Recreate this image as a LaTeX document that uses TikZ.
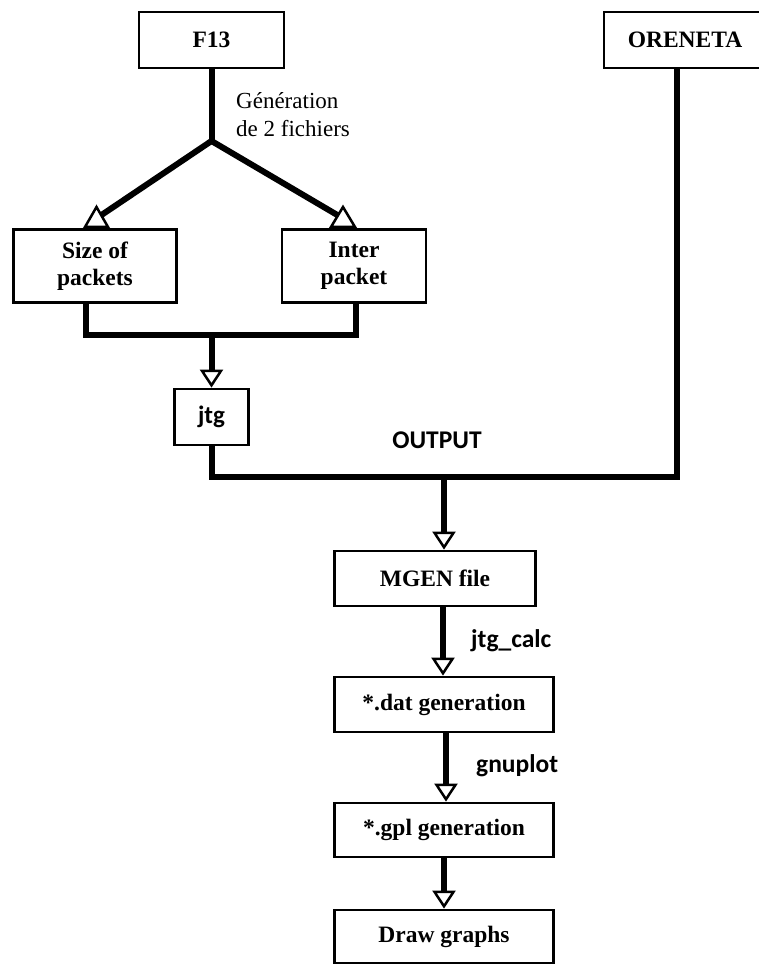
\documentclass[tikz,border=0pt]{standalone}
\usepackage{fontspec}
\setmainfont{Liberation Serif}
\newfontfamily\carlfont{Carlito}
\usetikzlibrary{arrows.meta,calc}
\begin{document}
\begin{tikzpicture}[x=1pt,y=-1pt,
  box/.style={draw, line width=2.8pt, inner sep=0pt, align=center,
    font=\fontsize{23.5}{27}\selectfont\bfseries},
  flow/.style={line width=6pt, line join=miter},
  arr/.style={-{Triangle[open,width=23pt,length=18pt,line width=2.5pt]}},
  tri/.style={line width=2.5pt, fill=white, line join=miter},
  lbl/.style={inner sep=0pt, font=\carlfont\fontsize{25.5}{30}\selectfont\bfseries}]
\useasboundingbox[fill=white] (0,0) rectangle (758,965);

% boxes
\node[box, minimum width=145pt, minimum height=56pt] (f13) at (211.5,40) {F13};
\node[box, minimum width=162pt, minimum height=56pt] (oreneta) at (685,40) {ORENETA};
\node[box, minimum width=163pt, minimum height=73pt] (size) at (95,266) {Size of\\packets};
\node[box, minimum width=144pt, minimum height=73pt] (inter) at (354,266) {Inter\\packet};
\node[box, minimum width=74pt, minimum height=56pt, font=\carlfont\fontsize{25}{30}\selectfont\bfseries] (jtg) at (211.5,417) {jtg};
\node[box, minimum width=201pt, minimum height=55pt] (mgen) at (435,578.5) {MGEN file};
\node[box, minimum width=219pt, minimum height=55pt] (dat) at (444,704.5) {*.dat generation};
\node[box, minimum width=219pt, minimum height=54pt] (gpl) at (444,830) {*.gpl generation};
\node[box, minimum width=219pt, minimum height=53pt] (draw) at (444,936.5) {Draw graphs};

% labels
\node[anchor=west, align=left, inner sep=0pt, font=\fontsize{23}{28}\selectfont] (gen) at (236,115) {Génération\\de 2 fichiers};
\node[lbl] (out) at (437,440) {OUTPUT};
\node[lbl, anchor=west] (calc) at (471,641) {jtg\_calc};
\node[lbl, anchor=west] (gnu) at (476,766) {gnuplot};

% coordinates
\coordinate (branch) at (211.5,141);
\coordinate (lend) at (100,216);
\coordinate (rend) at (339,216);
\coordinate (ltri) at (96.5,207);
\coordinate (rtri) at (343,207);
\coordinate (bar) at (211.5,335);
\coordinate (merge) at (444,477);

% split from F13
\draw[flow] (f13.south) -- (branch);
\draw[flow] (lend) -- (branch) -- (rend);
\draw[tri] ($(ltri)+(-11.5,20)$) -- (ltri) -- ($(ltri)+(11.5,20)$) -- cycle;
\draw[tri] ($(rtri)+(-12,20)$) -- (rtri) -- ($(rtri)+(12,20)$) -- cycle;

% join into jtg
\draw[flow] ([xshift=-9pt]size.south) |- (bar) -| ([xshift=2pt]inter.south);
\draw[flow,arr] (bar) -- (jtg.north);

% output merge
\draw[flow] (jtg.south) |- (merge) -| ([xshift=-8pt]oreneta.south);
\draw[flow,arr] (merge) -- ([xshift=9pt]mgen.north);

% chain
\draw[flow,arr] ([xshift=8pt]mgen.south) -- ([xshift=-1pt]dat.north);
\draw[flow,arr] ([xshift=2pt]dat.south) -- ([xshift=2pt]gpl.north);
\draw[flow,arr] (gpl.south) -- (draw.north);
\end{tikzpicture}
\end{document}
